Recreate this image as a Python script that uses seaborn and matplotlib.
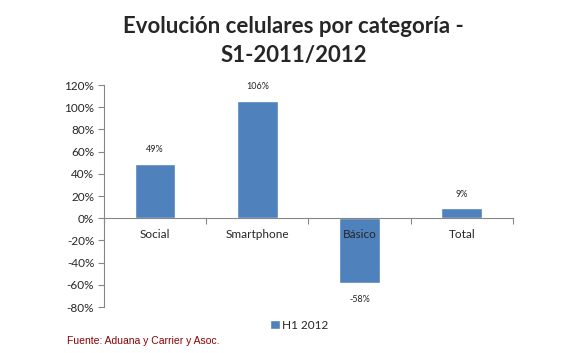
import matplotlib
matplotlib.use('Agg')
import matplotlib.pyplot as plt
import numpy as np
import pandas as pd
import seaborn as sns

# data
categories = ['Social', 'Smartphone', 'Básico', 'Total']
values = [49, 106, -58, 9]
series_name = 'H1 2012'
bar_color = '#4F81BD'

sns.set_style('white')
plt.rcParams['font.family'] = ['Lato', 'DejaVu Sans']

df = pd.DataFrame({'Categoria': categories, 'Valor': values, 'Serie': series_name})

fig = plt.figure(figsize=(5.87, 3.53), dpi=100)
ax = fig.add_axes([0.177, 0.130, 0.697, 0.629])

sns.barplot(data=df, x='Categoria', y='Valor', hue='Serie', palette=[bar_color],
            width=0.4, ax=ax, legend=True, saturation=1)

ax.set_ylim(-80, 120)
ax.set_xlim(-0.5, len(categories) - 0.5)
ax.set_yticks(np.arange(-80, 121, 20))
ax.set_yticklabels([f'{t}%' for t in range(-80, 121, 20)], fontsize=8.5)
ax.set_xlabel('')
ax.set_ylabel('')

# axis styling: y axis on the left, x axis crossing at zero
for side in ['top', 'right']:
    ax.spines[side].set_visible(False)
ax.spines['left'].set_color('#868686')
ax.spines['bottom'].set_color('#868686')
ax.spines['bottom'].set_position(('data', 0))
ax.set_xticks(np.arange(-0.5, len(categories), 1.0))
ax.set_xticklabels([])
ax.tick_params(axis='y', direction='out', length=4, color='#868686', left=True, pad=3)
ax.tick_params(axis='x', direction='out', length=4, color='#868686', bottom=True)

# category names just below the zero line
for i, cat in enumerate(categories):
    ax.annotate(cat, (i, 0), xytext=(0, -8), textcoords='offset points',
                ha='center', va='top', fontsize=8.5)

# value labels
for i, v in enumerate(values):
    off = 7 if v >= 0 else -9
    ax.annotate(f'{v}%', (i, v), xytext=(0, off), textcoords='offset points',
                ha='center', va='bottom' if v >= 0 else 'top', fontsize=6.5)

ax.get_legend().remove()
handles, labels = ax.get_legend_handles_labels()
fig.legend(handles, labels, loc='center', bbox_to_anchor=(0.51, 0.078), frameon=False,
           fontsize=8.5, handlelength=0.8, handleheight=0.8, handletextpad=0.2)

fig.suptitle('Evolución celulares por categoría -\nS1-2011/2012', y=0.955,
             fontsize=16, fontweight='bold', linespacing=1.45)

fig.text(0.114, 0.025, 'Fuente: Aduana y Carrier y Asoc.', color='#8B0000',
         fontsize=7.5, family=['Liberation Sans', 'DejaVu Sans'])

fig.savefig('out.png', dpi=100)
